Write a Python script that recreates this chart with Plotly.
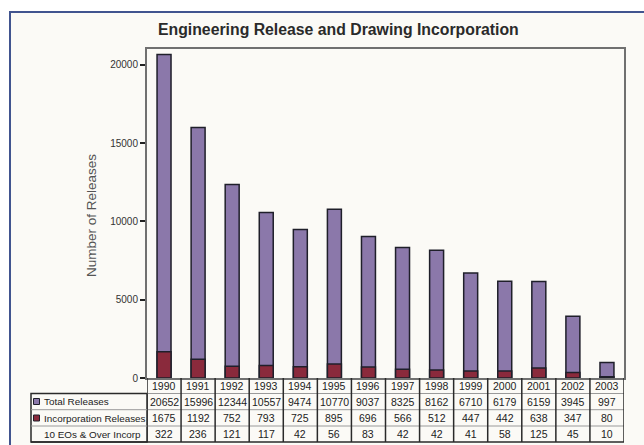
import plotly.graph_objects as go

years = ["1990", "1991", "1992", "1993", "1994", "1995", "1996", "1997",
         "1998", "1999", "2000", "2001", "2002", "2003"]
total_releases = [20652, 15996, 12344, 10557, 9474, 10770, 9037, 8325,
                  8162, 6710, 6179, 6159, 3945, 997]
incorp_releases = [1675, 1192, 752, 793, 725, 895, 696, 566,
                   512, 447, 442, 638, 347, 80]
over10_incorp = [322, 236, 121, 117, 42, 56, 83, 42, 42, 41, 58, 125, 45, 10]
row_labels = ["Total Releases", "Incorporation Releases", "10 EOs & Over Incorp"]

W, H = 644, 445
L, R, T, B = 147, 624, 49, 378  # plot area in window pixels


def X(px):
    return (px - L) / (R - L)


def Y(py):
    return (B - py) / (B - T)


PURPLE = "#8b78aa"
DARKRED = "#8a2a3c"
OUTLINE = "#1f1f2a"
TXT = "#222222"
FONT = "Liberation Sans, Arial, sans-serif"

fig = go.Figure()
fig.add_trace(go.Bar(x=years, y=total_releases, name=row_labels[0], width=0.41,
                     marker=dict(color=PURPLE, line=dict(color=OUTLINE, width=1.5))))
fig.add_trace(go.Bar(x=years, y=incorp_releases, name=row_labels[1], width=0.41,
                     marker=dict(color=DARKRED, line=dict(color=OUTLINE, width=1.5))))

shapes = []
# outer frame
shapes.append(dict(type="rect", xref="paper", yref="paper", x0=X(10), x1=X(700),
                   y0=Y(500), y1=Y(12), fillcolor="#fbfaf6",
                   line=dict(color="#41548f", width=2), layer="below"))
# label box
shapes.append(dict(type="rect", xref="paper", yref="paper", x0=X(31), x1=X(147),
                   y0=Y(442), y1=Y(393.5), line=dict(color="#2a2a2a", width=1.5)))
# horizontal table lines
for py in [393.5, 409.7, 426]:
    shapes.append(dict(type="line", xref="paper", yref="paper", x0=X(147), x1=1,
                       y0=Y(py), y1=Y(py), line=dict(color="#9a9a9a", width=1)))
for py in [409.7, 426]:
    shapes.append(dict(type="line", xref="paper", yref="paper", x0=X(31), x1=X(147),
                       y0=Y(py), y1=Y(py), line=dict(color="#9a9a9a", width=1)))
shapes.append(dict(type="line", xref="paper", yref="paper", x0=X(31), x1=1,
                   y0=Y(442), y1=Y(442), line=dict(color="#2a2a2a", width=1.5)))
# vertical table lines (column boundaries on the category axis)
for i in range(len(years) + 1):
    shapes.append(dict(type="line", xref="x", yref="paper", x0=i - 0.5, x1=i - 0.5,
                       y0=Y(442), y1=0, line=dict(color="#2a2a2a", width=1.5)))
# legend keys
for py, col in [(401.5, PURPLE), (418, DARKRED)]:
    shapes.append(dict(type="rect", xref="paper", yref="paper", x0=X(33.5), x1=X(39.5),
                       y0=Y(py + 3), y1=Y(py - 3), fillcolor=col,
                       line=dict(color=OUTLINE, width=1)))

ann = []
ann.append(dict(text="<b>Engineering Release and Drawing Incorporation</b>",
                xref="paper", yref="paper", x=X(338.5), y=Y(30), showarrow=False,
                font=dict(family=FONT, size=15.8, color="#2a2a2a"),
                xanchor="center", yanchor="middle"))
ann.append(dict(text="Number of Releases", xref="paper", yref="paper", x=X(91), y=Y(216),
                showarrow=False, textangle=-90,
                font=dict(family=FONT, size=13.5, color="#555555"),
                xanchor="center", yanchor="middle"))
for i, yr in enumerate(years):
    ann.append(dict(text=yr, xref="x", yref="paper", x=i, y=Y(385.8), showarrow=False,
                    font=dict(family=FONT, size=10.5, color=TXT),
                    xanchor="center", yanchor="middle"))
rows = [total_releases, incorp_releases, over10_incorp]
row_y = [401.5, 418, 434]
for vals, py, lab in zip(rows, row_y, row_labels):
    ann.append(dict(text=lab, xref="paper", yref="paper", x=X(41.5), y=Y(py),
                    showarrow=False, font=dict(family=FONT, size=9.9, color=TXT),
                    xanchor="left", yanchor="middle"))
    for i, v in enumerate(vals):
        ann.append(dict(text=str(v), xref="x", yref="paper", x=i, y=Y(py),
                        showarrow=False, font=dict(family=FONT, size=10.5, color=TXT),
                        xanchor="center", yanchor="middle"))

fig.update_layout(
    width=W, height=H, autosize=False,
    margin=dict(l=L, r=W - R, t=T, b=H - B, pad=0),
    paper_bgcolor="#ffffff", plot_bgcolor="rgba(0,0,0,0)",
    barmode="overlay", showlegend=False,
    shapes=shapes, annotations=ann,
    xaxis=dict(type="category", range=[-0.5, len(years) - 0.5], showticklabels=False,
               ticks="", showgrid=False, zeroline=False, showline=True, mirror=True,
               linecolor="#707070", linewidth=2),
    yaxis=dict(range=[0, 21000], tickvals=[0, 5000, 10000, 15000, 20000],
               tickformat="d",
               ticks="outside", ticklen=5, tickwidth=2, tickcolor="#222",
               tickfont=dict(family=FONT, size=10, color="#333"),
               showgrid=False, zeroline=False, showline=True, mirror=True,
               linecolor="#707070", linewidth=2),
)

fig.write_html("out.html", config={"displayModeBar": False},
               post_script="document.body.style.margin='0';")
